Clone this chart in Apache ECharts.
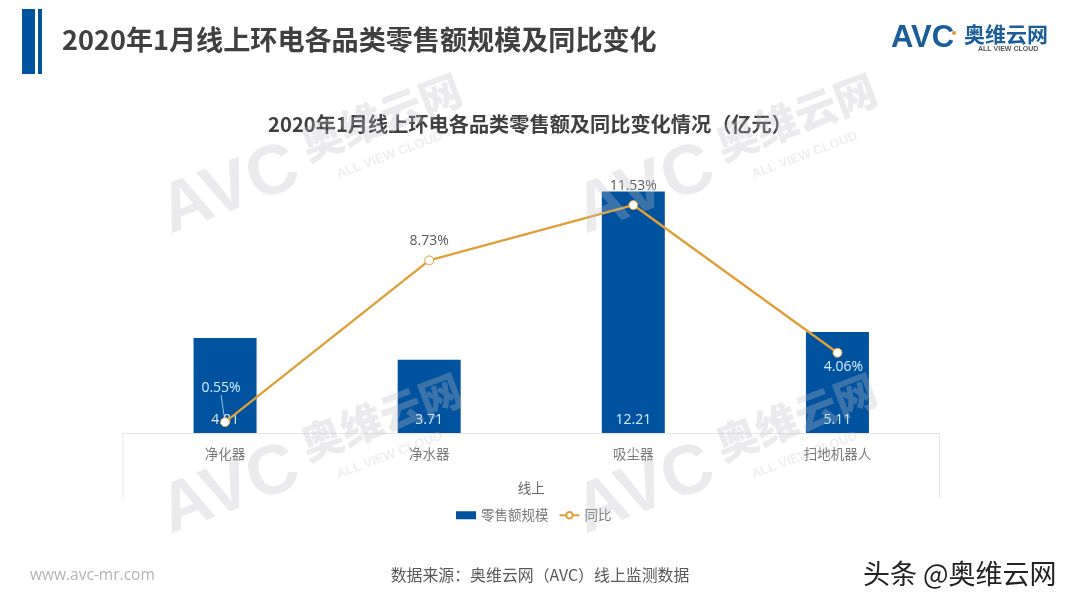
<!DOCTYPE html>
<html>
<head>
<meta charset="utf-8">
<style>
html, body { margin: 0; padding: 0; background: #fff; }
#chart { width: 1080px; height: 608px; }
</style>
<script src="https://cdn.jsdelivr.net/npm/echarts@6/dist/echarts.min.js"></script>
</head>
<body>
<div id="chart"></div>
<script>
var categories = ['净化器', '净水器', '吸尘器', '扫地机器人'];
var retailSales = [4.81, 3.71, 12.21, 5.11];
var yoyPercent = [0.55, 8.73, 11.53, 4.06];

var cjkFont = '"Noto Sans CJK SC", "Noto Sans", sans-serif';
var blue = '#02539f';
var orange = '#e1a036';
var labelLight = '#d5edff';

// watermark blocks, repeated across the slide
function watermark(x, y) {
    var ink = 'rgba(190,190,195,0.3)';
    return [
        { type: 'text', x: x - 14, y: y + 98, rotation: 0.36, z: 50, silent: true,
          style: { text: 'AVC', font: '900 70px "Liberation Sans", sans-serif', fill: ink } },
        { type: 'text', x: x + 130, y: y + 42, rotation: 0.36, z: 50, silent: true,
          style: { text: '奥维云网', font: '900 42px ' + cjkFont, fill: ink } },
        { type: 'text', x: x + 170, y: y + 84, rotation: 0.36, z: 50, silent: true,
          style: { text: 'ALL VIEW CLOUD', font: 'bold 13px "Liberation Sans", sans-serif', fill: 'rgba(190,190,195,0.26)' } }
    ];
}

var decor = [
    { type: 'rect', shape: { x: 22, y: 9, width: 13, height: 65 }, style: { fill: blue } },
    { type: 'rect', shape: { x: 38, y: 9, width: 4, height: 65 }, style: { fill: blue } },
    { type: 'text', x: 62, y: 26, style: { text: '2020年1月线上环电各品类零售额规模及同比变化', font: 'bold 27.1px ' + cjkFont, fill: '#404040' } },
    { type: 'text', x: 891, y: 23, style: { text: 'AVC', font: '900 31px "Liberation Sans", sans-serif', fill: '#1a5d99' } },
    { type: 'circle', shape: { cx: 954, cy: 33, r: 2 }, style: { fill: '#e1a036' } },
    { type: 'text', x: 964, y: 24, style: { text: '奥维云网', font: 'bold 21px ' + cjkFont, fill: '#1a5d99' } },
    { type: 'text', x: 978, y: 46, style: { text: 'ALL VIEW CLOUD', font: 'bold 7px "Liberation Sans", sans-serif', fill: '#555' } },
    // left and right edges of the multi-level axis box
    { type: 'line', shape: { x1: 123, y1: 433, x2: 123, y2: 498 }, style: { stroke: '#e6e6e6', lineWidth: 1 } },
    { type: 'line', shape: { x1: 939.5, y1: 433, x2: 939.5, y2: 498 }, style: { stroke: '#e6e6e6', lineWidth: 1 } },
    { type: 'text', x: 30, y: 568, style: { text: 'www.avc-mr.com', font: '15.5px "Open Sans", sans-serif', fill: '#b4b4b4' } },
    { type: 'text', x: 540, y: 567, style: { text: '数据来源：奥维云网（AVC）线上监测数据', font: '15.9px ' + cjkFont, fill: '#595959', textAlign: 'center' } },
    { type: 'text', x: 863, y: 560, style: { text: '头条 @奥维云网', font: '27px ' + cjkFont, fill: '#222' } }
];
decor = decor.concat(watermark(165, 85), watermark(580, 85), watermark(165, 385), watermark(580, 385));

// per-point placement of the yoy labels, as in the original slide
var yoyLabelStyle = [
    { color: labelLight, position: 'top', distance: 6 },
    { color: '#595959', position: 'top', distance: 7 },
    { color: '#595959', position: 'top', distance: 7 },
    { color: labelLight, position: 'bottom', distance: 2 }
];

var yoyData = yoyPercent.map(function (v, i) {
    return { value: v, label: yoyLabelStyle[i] };
});
yoyData[0].labelLine = { show: true, lineStyle: { color: labelLight, width: 0.7 } };

var myChart = echarts.init(document.getElementById('chart'));

var option = {
    backgroundColor: '#fff',
    animation: false,
    textStyle: { fontFamily: cjkFont },
    title: {
        text: '2020年1月线上环电各品类零售额及同比变化情况（亿元）',
        left: 525,
        top: 109,
        textAlign: 'center',
        textStyle: { fontSize: 20.2, fontWeight: 'bold', color: '#404040', fontFamily: cjkFont }
    },
    legend: {
        bottom: 81,
        left: 451,
        itemWidth: 20,
        itemHeight: 8,
        itemGap: 10,
        textStyle: { fontSize: 13.5, color: '#7a7a7a' },
        data: [
            { name: '零售额规模', icon: 'rect' },
            { name: '同比' }
        ]
    },
    grid: { left: 123, right: 140.5, top: 176, bottom: 175 },
    xAxis: {
        type: 'category',
        data: categories,
        name: '线上',
        nameLocation: 'middle',
        nameGap: 48,
        nameTextStyle: { fontSize: 13.5, color: '#666' },
        axisTick: { show: false },
        axisLine: { lineStyle: { color: '#e6e6e6' } },
        axisLabel: { fontSize: 13.5, color: '#7a7a7a', margin: 14 }
    },
    yAxis: { type: 'value', min: 0, max: 13, show: false },
    series: [
        {
            name: '零售额规模',
            type: 'bar',
            data: retailSales,
            barWidth: 63,
            itemStyle: { color: blue },
            label: {
                show: true,
                position: 'insideBottom',
                distance: 6,
                fontSize: 14,
                color: labelLight,
                fontFamily: '"Open Sans", sans-serif'
            }
        },
        {
            name: '同比',
            type: 'line',
            data: yoyData,
            symbol: 'circle',
            symbolSize: 9,
            showAllSymbol: true,
            lineStyle: { color: orange, width: 2.4 },
            itemStyle: { color: '#fff', borderColor: orange, borderWidth: 1 },
            label: {
                show: true,
                fontSize: 14,
                fontFamily: '"Open Sans", sans-serif',
                formatter: function (p) { return p.value.toFixed(2) + '%'; }
            },
            // first label is pulled up with a leader line, last one nudged right
            labelLayout: function (p) {
                if (p.dataIndex === 0) {
                    return { dx: -4, dy: -16 };
                }
                return p.dataIndex === 3 ? { dx: 6 } : {};
            }
        }
    ],
    graphic: { elements: decor }
};

myChart.setOption(option);
</script>
</body>
</html>
